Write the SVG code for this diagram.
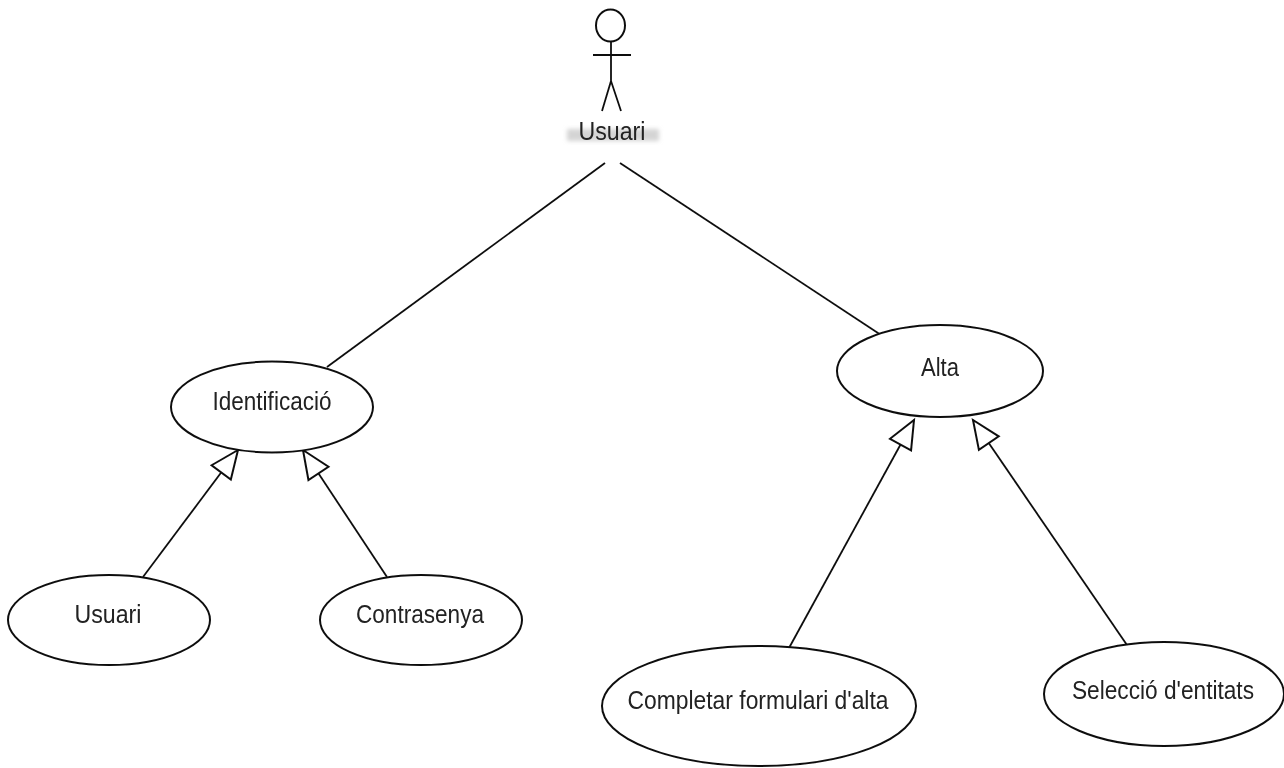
<svg xmlns="http://www.w3.org/2000/svg" width="1284" height="768" viewBox="0 0 1284 768">
<defs>
<filter id="blur" x="-30%" y="-60%" width="160%" height="220%"><feGaussianBlur stdDeviation="2"/></filter>
<filter id="soft" x="-10%" y="-10%" width="120%" height="120%"><feGaussianBlur stdDeviation="0.45"/></filter>
<marker id="tri" markerUnits="userSpaceOnUse" markerWidth="34" markerHeight="34" refX="30" refY="15" orient="auto"><path d="M30 15 L2 3 L2 27 Z" fill="#fff" stroke="#111" stroke-width="2"/></marker>
</defs>
<style>
.n{fill:#fff;stroke:#111;stroke-width:2}
.c{fill:none;stroke:#111;stroke-width:1.8}
.g{fill:#d4d4d4;filter:url(#blur)}
.t{font-family:"Liberation Sans",Arial,sans-serif;font-size:26px;fill:#222;text-anchor:middle}
</style>
<rect width="1284" height="768" fill="#fff"/>
<g id="connectors" filter="url(#soft)">
<line class="c" x1="605" y1="163" x2="327" y2="367"/>
<line class="c" x1="620" y1="163" x2="881" y2="335"/>
<line class="c" x1="143" y1="577" x2="238" y2="450" marker-end="url(#tri)"/>
<line class="c" x1="387" y1="577" x2="303" y2="450" marker-end="url(#tri)"/>
<line class="c" x1="789" y1="648" x2="914" y2="420" marker-end="url(#tri)"/>
<line class="c" x1="1129" y1="648" x2="973" y2="420" marker-end="url(#tri)"/>
</g>
<g id="actor">
<rect class="g" x="567" y="129" width="92" height="12"/>
<g filter="url(#soft)">
<ellipse cx="610.500" cy="25.500" rx="14.500" ry="16" fill="#fff" stroke="#111" stroke-width="2"/>
<path class="c" d="M611 41V81M593 55H631M611 81L602 111M611 81L621 111"/>
<text class="t" x="612" y="140" textLength="67" lengthAdjust="spacingAndGlyphs">Usuari</text>
</g>
</g>
<g id="identificacio" filter="url(#soft)"><ellipse class="n" cx="272" cy="407" rx="101" ry="45.500"/><text class="t" x="272" y="410" textLength="119" lengthAdjust="spacingAndGlyphs">Identificació</text></g>
<g id="alta" filter="url(#soft)"><ellipse class="n" cx="940" cy="371" rx="103" ry="46"/><text class="t" x="940" y="376" textLength="38" lengthAdjust="spacingAndGlyphs">Alta</text></g>
<g id="usuari" filter="url(#soft)"><ellipse class="n" cx="109" cy="620" rx="101" ry="45"/><text class="t" x="108" y="623" textLength="67" lengthAdjust="spacingAndGlyphs">Usuari</text></g>
<g id="contrasenya" filter="url(#soft)"><ellipse class="n" cx="421" cy="620" rx="101" ry="45"/><text class="t" x="420" y="623" textLength="128" lengthAdjust="spacingAndGlyphs">Contrasenya</text></g>
<g id="completar" filter="url(#soft)"><ellipse class="n" cx="759" cy="706" rx="157" ry="60"/><text class="t" x="758" y="709" textLength="261" lengthAdjust="spacingAndGlyphs">Completar formulari d'alta</text></g>
<g id="seleccio" filter="url(#soft)"><ellipse class="n" cx="1164" cy="694" rx="120" ry="52"/><text class="t" x="1163" y="699" textLength="182" lengthAdjust="spacingAndGlyphs">Selecció d'entitats</text></g>
</svg>
